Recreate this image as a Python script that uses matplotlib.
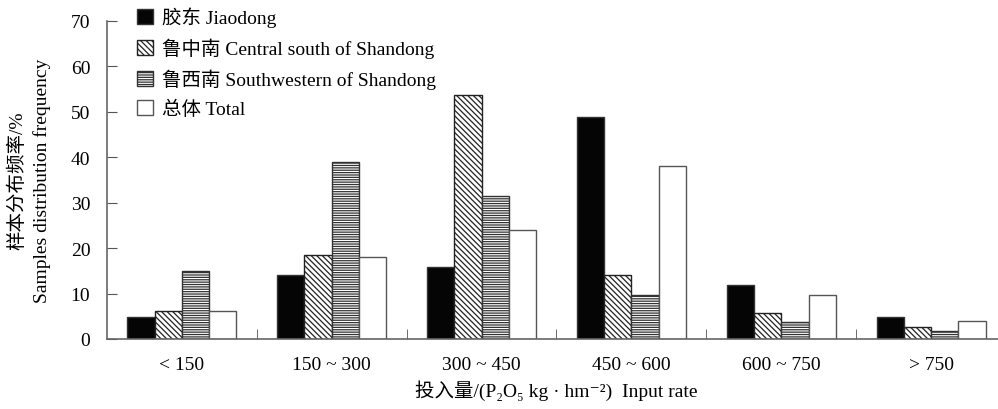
import numpy as np
import matplotlib
matplotlib.use("Agg")
import matplotlib.pyplot as plt

plt.rcParams["font.family"] = ["Liberation Serif", "Noto Sans CJK SC", "DejaVu Serif"]
plt.rcParams["hatch.linewidth"] = 0.9

# Data
categories = ["< 150", "150 ~ 300", "300 ~ 450", "450 ~ 600", "600 ~ 750", "> 750"]
jiaodong = [4.8, 14.0, 15.8, 48.8, 11.9, 4.8]
central_south = [6.1, 18.6, 53.7, 14.0, 5.7, 2.6]
southwestern = [15.0, 39.0, 31.5, 9.7, 3.7, 1.7]
total = [6.1, 18.0, 24.1, 38.1, 9.6, 3.9]
series_labels = [
    "胶东 Jiaodong",
    "鲁中南 Central south of Shandong",
    "鲁西南 Southwestern of Shandong",
    "总体 Total",
]

fig = plt.figure(figsize=(9.98, 4.10), dpi=100)
ax = fig.add_axes([107 / 998, 70 / 410, 899 / 998, 318 / 410])

x = np.arange(len(categories))
w = 0.182
styles = [
    dict(color="#050505", edgecolor="#333333", hatch=None),
    dict(color="white", edgecolor="#222222", hatch="\\\\\\\\\\\\"),
    dict(color="white", edgecolor="#333333", hatch="-------"),
    dict(color="white", edgecolor="#555555", hatch=None),
]
all_series = [jiaodong, central_south, southwestern, total]
for i, (vals, st, lab) in enumerate(zip(all_series, styles, series_labels)):
    offset = (i - 1.5) * w
    ax.bar(x + offset, vals, w, color=st["color"], edgecolor=st["edgecolor"],
           hatch=st["hatch"], linewidth=1.0, label=lab)

ax.set_xlim(-0.5, 5.5)
ax.set_ylim(0, 70)
ax.set_yticks(range(0, 71, 10))
ax.set_xticks(x)
ax.set_xticklabels(categories)
ax.set_xticks(np.arange(0.5, 5.5, 1.0), minor=True)
ax.tick_params(axis="x", which="major", length=0, pad=12, labelsize=14)
ax.tick_params(axis="x", which="minor", direction="in", length=7, color="#555555")
ax.tick_params(axis="y", direction="in", length=7, color="#555555", labelsize=14, pad=12)

for side in ["top", "right"]:
    ax.spines[side].set_visible(False)
for side in ["left", "bottom"]:
    ax.spines[side].set_color("#666666")
    ax.spines[side].set_linewidth(1.2)

ax.set_xlabel("投入量/(P₂O₅ kg · hm⁻²)  Input rate", fontsize=14, labelpad=5)
fig.text(17 / 998, 1 - 181 / 410, "样本分布频率/%", rotation=90,
         ha="center", va="center", fontsize=14)
fig.text(42 / 998, 1 - 181 / 410, "Samples distribution frequency", rotation=90,
         ha="center", va="center", fontsize=14)

ax.legend(loc="upper left", bbox_to_anchor=(0.025, 1.07), frameon=False,
          fontsize=14, handlelength=0.8, handleheight=0.8, handletextpad=0.45,
          labelspacing=0.55, borderaxespad=0)

fig.savefig("out.png", dpi=100)
